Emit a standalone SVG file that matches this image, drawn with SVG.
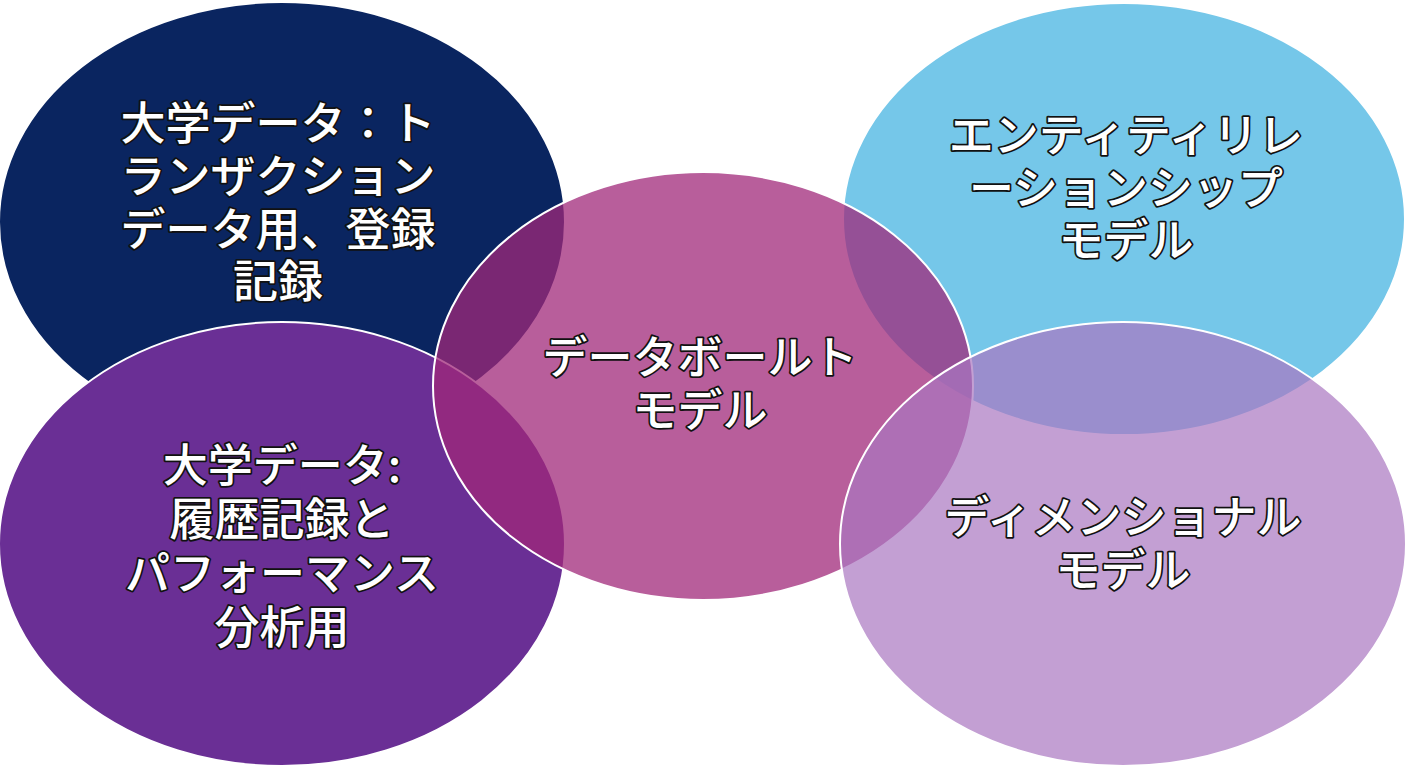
<svg xmlns="http://www.w3.org/2000/svg" width="1408" height="768" viewBox="0 0 1408 768">
<style>
.e{stroke:#ffffff;stroke-width:2}
.t{font-family:"Noto Sans CJK JP","Noto Sans",sans-serif;font-size:45px;font-weight:500;fill:#ffffff;stroke:#111111;stroke-width:3.5;paint-order:stroke;stroke-linejoin:round;text-anchor:middle}
</style>
<rect width="1408" height="768" fill="#ffffff"/>
<g id="node-navy">
<ellipse class="e" cx="282" cy="222" rx="283" ry="220" fill="#0a2560"/>
<text class="t"><tspan x="278" y="140">大学データ：ト</tspan><tspan x="278" y="193">ランザクション</tspan><tspan x="278" y="246">データ用、登録</tspan><tspan x="278" y="298">記録</tspan></text>
</g>
<g id="node-purple">
<ellipse class="e" cx="282" cy="544" rx="283" ry="222" fill="#6a2f95"/>
<text class="t"><tspan x="282" y="482">大学データ:</tspan><tspan x="282" y="536">履歴記録と</tspan><tspan x="282" y="590">パフォーマンス</tspan><tspan x="282" y="644">分析用</tspan></text>
</g>
<g id="node-blue">
<ellipse class="e" cx="1124" cy="219" rx="281" ry="216" fill="#75c7e9"/>
<text class="t"><tspan x="1126" y="152">エンティティリレ</tspan><tspan x="1126" y="205">ーションシップ</tspan><tspan x="1126" y="257">モデル</tspan></text>
</g>
<g id="node-pink">
<ellipse class="e" cx="703" cy="386" rx="270" ry="214" fill="#a0287a" fill-opacity="0.75"/>
<text class="t"><tspan x="700" y="374">データボールト</tspan><tspan x="700" y="427">モデル</tspan></text>
</g>
<g id="node-lilac">
<ellipse class="e" cx="1123" cy="544" rx="283" ry="222" fill="#a976c0" fill-opacity="0.7"/>
<text class="t"><tspan x="1123" y="534">ディメンショナル</tspan><tspan x="1123" y="587">モデル</tspan></text>
</g>
<g id="connectors"/>
</svg>
